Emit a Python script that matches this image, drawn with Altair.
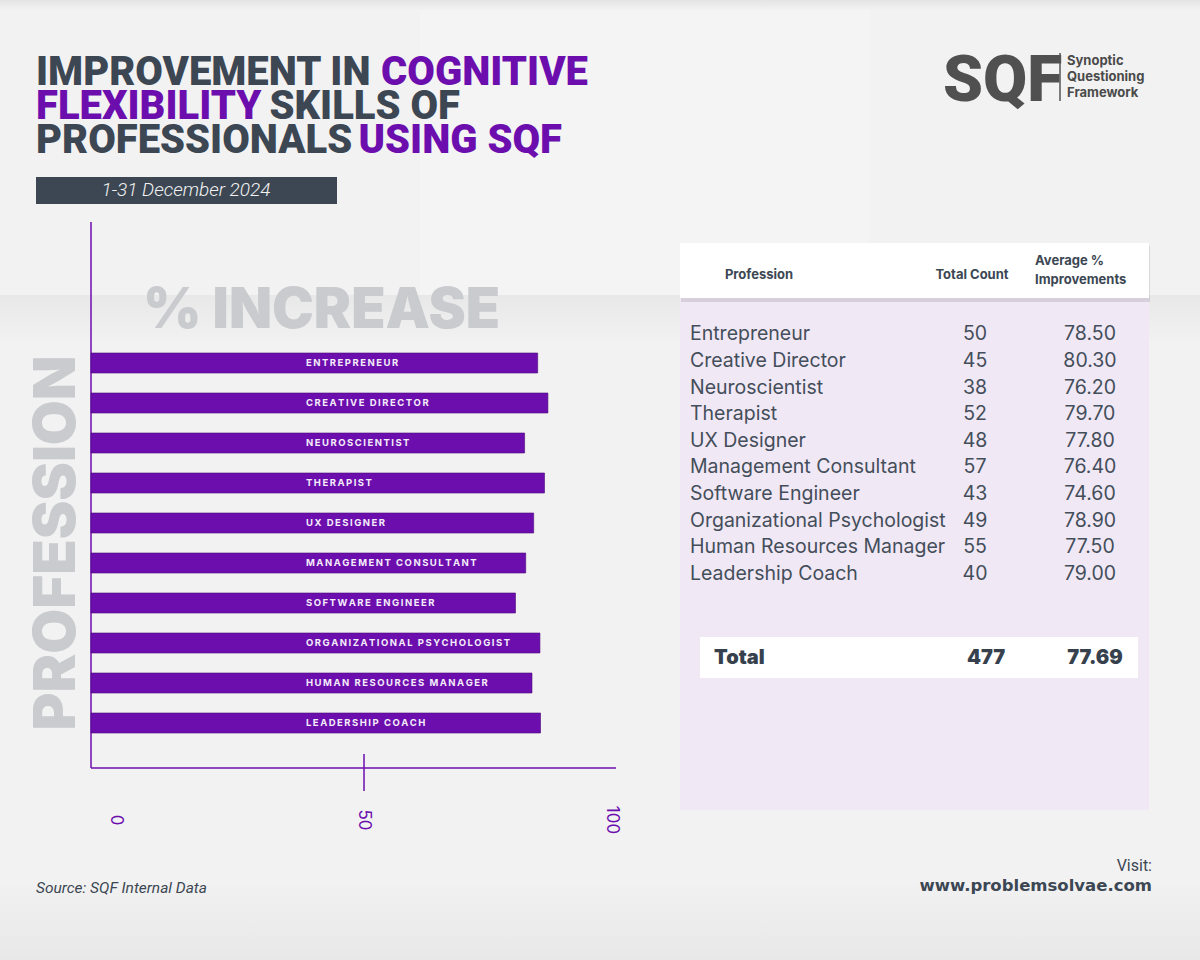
import altair as alt
import pandas as pd

# ---------------- data ----------------
professions = [
    "Entrepreneur", "Creative Director", "Neuroscientist", "Therapist", "UX Designer",
    "Management Consultant", "Software Engineer", "Organizational Psychologist",
    "Human Resources Manager", "Leadership Coach",
]
total_counts = [50, 45, 38, 52, 48, 57, 43, 49, 55, 40]
avg_improvements = [78.50, 80.30, 76.20, 79.70, 77.80, 76.40, 74.60, 78.90, 77.50, 79.00]
x_axis_ticks = [0, 50, 100]
marked_ticks = [50]
total_row = ["Total", "477", "77.69"]
table_headers = ["Profession", "Total Count", "Average %", "Improvements"]

# ---------------- styles ----------------
PURPLE = "#6c0eae"
DARK = "#3c4753"
GREY_BIG = "#c9cbce"
FONT = "Inter"
TFONT = "Roboto"

df = pd.DataFrame({"profession": professions, "count": total_counts, "avg": avg_improvements})
df["bar_label"] = ["\u2009".join(p.upper()) for p in professions]
ticks_df = pd.DataFrame({"tick": marked_ticks})
labels_df = pd.DataFrame({"tick": x_axis_ticks})
one = pd.DataFrame({"k": [0]})


def box(x, x2, y, y2, color, opacity=1.0, **kw):
    return alt.Chart(one).mark_rect(color=color, opacity=opacity, **kw).encode(
        x=alt.value(x), x2=alt.value(x2), y=alt.value(y), y2=alt.value(y2))


def txt(text, x, y, size, color=DARK, weight="normal", style="normal", align="left",
        font=FONT, angle=0, baseline="middle"):
    return alt.Chart(one).mark_text(
        text=text, fontSize=size, color=color, fontWeight=weight, fontStyle=style,
        align=align, baseline=baseline, font=font, angle=angle,
    ).encode(x=alt.value(x), y=alt.value(y))


def vgrad(c1, c2):
    return alt.Gradient(gradient="linear", x1=0, x2=0, y1=0, y2=1,
                        stops=[alt.GradientStop(color=c1, offset=0), alt.GradientStop(color=c2, offset=1)])


layers = []

# ---------------- background ----------------
layers += [
    box(0, 1200, 0, 960, "#f2f2f2"),
    box(0, 1200, 0, 10, vgrad("#e4e4e4", "#f2f2f2")),
    box(0, 1200, 295, 340, vgrad("#e8e8e8", "#f1f1f1")),
    box(0, 1200, 885, 960, vgrad("#f1f1f1", "#e8e8e8")),
    box(420, 870, 10, 295, "#f5f5f5", 0.7),
]

# ---------------- title ----------------
layers += [
    txt("IMPROVEMENT IN", 36, 85, 40, DARK, 900, font=TFONT, baseline="alphabetic"),
    txt("COGNITIVE", 588, 85, 40, PURPLE, 900, font=TFONT, baseline="alphabetic", align="right"),
    txt("FLEXIBILITY", 36, 119, 40, PURPLE, 900, font=TFONT, baseline="alphabetic"),
    txt("SKILLS OF", 460, 119, 40, DARK, 900, font=TFONT, baseline="alphabetic", align="right"),
    txt("PROFESSIONALS", 36, 153, 40, DARK, 900, font=TFONT, baseline="alphabetic"),
    txt("USING SQF", 562, 153, 40, PURPLE, 900, font=TFONT, baseline="alphabetic", align="right"),
    box(36, 337, 177, 204, DARK),
    txt("1-31 December 2024", 186, 190, 19, "#f2f2f2", 300, "italic", "center", font=TFONT),
]

# ---------------- logo ----------------
layers += [
    txt("SQF", 943, 101, 64, "#505050", 900, font=TFONT, baseline="alphabetic"),
    alt.Chart(one).mark_rule(color="#555555", strokeWidth=1.5).encode(
        x=alt.value(1060), y=alt.value(53), y2=alt.value(101)),
    txt("Synoptic", 1067, 61, 13, "#4a4a4a", 700),
    txt("Questioning", 1067, 77, 13, "#4a4a4a", 700),
    txt("Framework", 1067, 93, 13, "#4a4a4a", 700),
]

# ---------------- bar chart ----------------
y_bar = alt.Y("profession:N", sort=professions,
              scale=alt.Scale(range=[343, 743], paddingInner=0.5, paddingOuter=0.25), axis=None)
axis_scale = alt.Scale(domain=[-5.04, 100.8], range=[91, 616], nice=False, zero=False)

layers += [
    txt("% INCREASE", 143, 328, 56, GREY_BIG, 900, baseline="alphabetic"),
    txt("PROFESSION", 75, 543, 58, GREY_BIG, 900, align="center", angle=270, baseline="alphabetic"),
    alt.Chart(one).mark_rule(color=PURPLE, strokeWidth=1.5).encode(
        x=alt.value(91), y=alt.value(222), y2=alt.value(768)),
    alt.Chart(one).mark_rule(color=PURPLE, strokeWidth=1.5).encode(
        x=alt.value(91), x2=alt.value(616), y=alt.value(768)),
    alt.Chart(df).mark_bar(color=PURPLE, stroke="#4b0a7a", strokeWidth=0.6).encode(
        x=alt.X("avg:Q", scale=alt.Scale(domain=[0, 100], range=[91, 660], nice=False, zero=True), axis=None),
        y=y_bar,
    ),
    alt.Chart(df).mark_text(align="left", baseline="middle", color="#f4ecfa", fontWeight=700,
                            fontSize=9.5, font=FONT).encode(
        x=alt.value(306), y=y_bar, text="bar_label:N"),
    alt.Chart(ticks_df).mark_rule(color=PURPLE, strokeWidth=1.5).encode(
        x=alt.X("tick:Q", scale=axis_scale, axis=None),
        y=alt.value(754), y2=alt.value(791)),
    alt.Chart(labels_df).mark_text(angle=90, align="center", baseline="middle", fontSize=17,
                                   font=FONT, color=PURPLE).encode(
        x=alt.X("tick:Q", scale=axis_scale, axis=None),
        y=alt.value(820), text="tick:Q"),
]

# ---------------- table ----------------
y_row = alt.Y("profession:N", sort=professions,
              scale=alt.Scale(range=[321, 587], paddingInner=0, paddingOuter=0), axis=None)

layers += [
    box(680, 1149, 298, 810, "#f0e8f5"),
    box(681, 1150, 246, 302, "#000000", 0.10),
    box(680, 1149, 243, 298, "#ffffff"),
    txt(table_headers[0], 759, 275, 13, DARK, 700, align="center"),
    txt(table_headers[1], 972, 275, 13, DARK, 700, align="center"),
    txt(table_headers[2], 1035, 261, 13, DARK, 700),
    txt(table_headers[3], 1035, 280, 13, DARK, 700),
    alt.Chart(df).mark_text(align="left", baseline="middle", fontSize=19.5, font=FONT,
                            color="#444e5a").encode(x=alt.value(690), y=y_row, text="profession:N"),
    alt.Chart(df).mark_text(align="center", baseline="middle", fontSize=19.5, font=FONT,
                            color="#444e5a").encode(x=alt.value(975), y=y_row, text="count:Q"),
    alt.Chart(df).mark_text(align="center", baseline="middle", fontSize=19.5, font=FONT,
                            color="#444e5a").encode(x=alt.value(1090), y=y_row,
                                                    text=alt.Text("avg:Q", format=".2f")),
    box(700, 1138, 637, 678, "#ffffff"),
    txt(total_row[0], 714, 658, 20, "#37414d", 900),
    txt(total_row[1], 986, 658, 20, "#37414d", 900, align="center"),
    txt(total_row[2], 1095, 658, 20, "#37414d", 900, align="center"),
]

# ---------------- footer ----------------
layers += [
    txt("Source: SQF Internal Data", 36, 888, 15.5, DARK, "normal", "italic", font=TFONT),
    txt("Visit:", 1152, 866, 16, DARK, "normal", align="right", font=TFONT),
    txt("www.problemsolvae.com", 1152, 886, 16.5, DARK, 700, align="right", font="DejaVu Sans"),
]

chart = alt.layer(*layers).resolve_scale(x="independent", y="independent").properties(
    width=1200, height=960, padding=0, autosize=alt.AutoSizeParams(type="none"),
    background="#f2f2f2",
).configure_view(stroke=None)

chart.save("out.html", embed_options={"renderer": "svg", "actions": False})
